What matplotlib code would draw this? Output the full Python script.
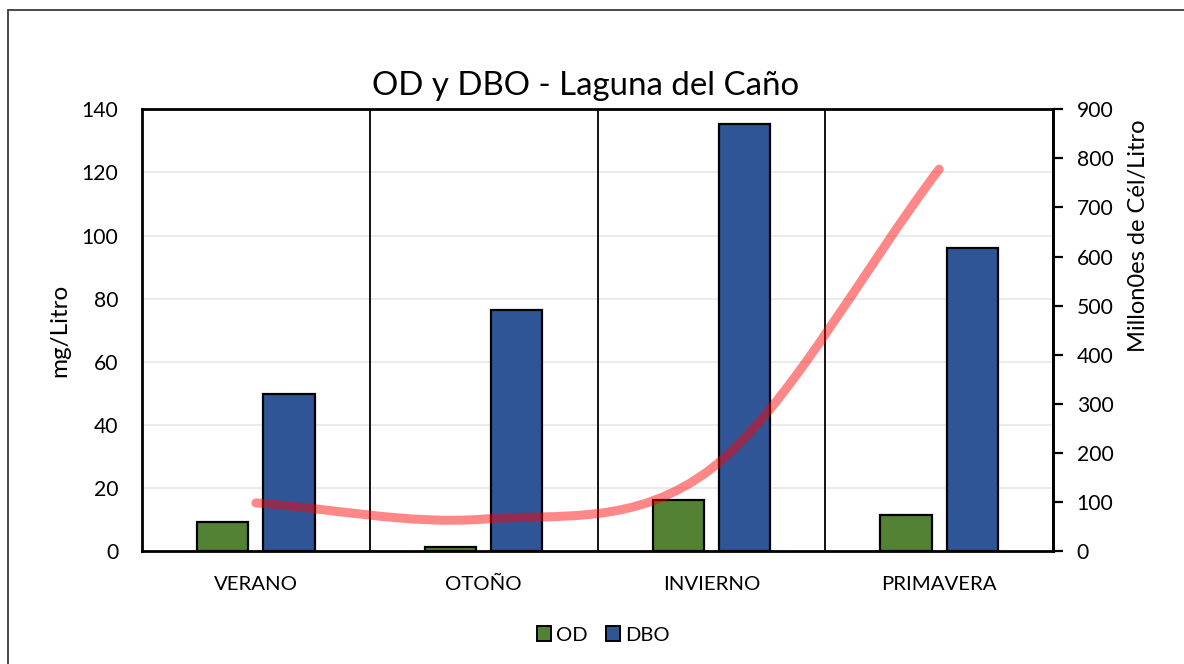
import numpy as np
import matplotlib
matplotlib.use("Agg")
import matplotlib.pyplot as plt
from matplotlib.patches import Rectangle, Patch
from matplotlib.path import Path
from matplotlib.patches import PathPatch

# ---- data ----
seasons = ["VERANO", "OTOÑO", "INVIERNO", "PRIMAVERA"]
od = [9.1, 1.4, 16.2, 11.4]          # mg/Litro
dbo = [49.9, 76.4, 135.2, 96.0]      # mg/Litro
cells = [98, 65, 168, 778]           # millones de cél/Litro
left_ticks = [0, 20, 40, 60, 80, 100, 120, 140]
right_ticks = [0, 100, 200, 300, 400, 500, 600, 700, 800, 900]

plt.rcParams["font.family"] = ["Lato", "DejaVu Sans"]

W, H = 1184, 664
fig = plt.figure(figsize=(W / 100, H / 100), dpi=100)

# outer chart frame
fig.patches.append(Rectangle((8 / W, -0.2), 1.3, 1 - 10 / H + 0.2,
                             transform=fig.transFigure, fill=False,
                             edgecolor="#3a3a3a", linewidth=1.3, zorder=0))

ax = fig.add_axes([142 / W, 1 - 551 / H, (1053 - 142) / W, (551 - 109.3) / H])
x = np.arange(len(seasons))
bw = 0.225
off = 0.145
ax.bar(x - off, od, bw, color="#548235", edgecolor="black", linewidth=1.6, zorder=3, label="OD")
ax.bar(x + off, dbo, bw, color="#2F5597", edgecolor="black", linewidth=1.6, zorder=3, label="DBO")

ax.set_xlim(-0.5, len(seasons) - 0.5)
ax.set_ylim(0, 140)
ax.set_yticks(left_ticks)
ax.set_xticks(x)
ax.set_xticklabels(seasons, fontsize=14.7)
ax.tick_params(axis="x", length=0, pad=18)
ax.tick_params(axis="y", length=0, pad=17, labelsize=15.2)
for v in left_ticks[1:]:
    ax.axhline(v, color="#ebebeb", linewidth=1.4, zorder=1)
for b in x[:-1] + 0.5:
    ax.axvline(b, color="black", linewidth=1.3, zorder=2)
for s in ax.spines.values():
    s.set_linewidth(2.0)
    s.set_color("black")

# secondary axis with smoothed line
ax2 = ax.twinx()
ax2.set_ylim(0, 900)
ax2.set_yticks(right_ticks)
ax2.tick_params(axis="y", direction="out", length=7, width=1.6, pad=10, labelsize=15.2)
for k in ("left", "top", "bottom"):
    ax2.spines[k].set_visible(False)
ax2.spines["right"].set_linewidth(2.0)

# smoothed curve through the points (Bezier segments, reflected end points)
pts = np.column_stack([x.astype(float), np.array(cells, float)])
ext = np.vstack([2 * pts[0] - pts[1], pts, 2 * pts[-1] - pts[-2]])
verts = [tuple(pts[0])]
codes = [Path.MOVETO]
for i in range(len(pts) - 1):
    p0, p1, p2, p3 = ext[i], ext[i + 1], ext[i + 2], ext[i + 3]
    c1 = p1 + (p2 - p0) / 6
    c2 = p2 - (p3 - p1) / 6
    verts += [tuple(c1), tuple(c2), tuple(p2)]
    codes += [Path.CURVE4] * 3
ax2.add_patch(PathPatch(Path(verts, codes), fill=False, edgecolor=(1, 0, 0, 0.47),
                        linewidth=6.5, capstyle="round", joinstyle="round", zorder=4))

# axis titles
fig.text(60 / W, 1 - 330 / H, "mg/Litro", rotation=90,
         ha="center", va="center", fontsize=17.5)
fig.text(1139 / W, 1 - 236 / H, "Millon0es de Cél/Litro", rotation=90,
         ha="center", va="center", fontsize=17)

fig.text(586 / W, 1 - 86 / H, "OD y DBO - Laguna del Caño", ha="center", va="center",
         fontsize=23.8)

handles = [Patch(facecolor="#548235", edgecolor="black", linewidth=1.4, label="OD"),
           Patch(facecolor="#2F5597", edgecolor="black", linewidth=1.4, label="DBO")]
fig.legend(handles=handles, loc="center", bbox_to_anchor=(603 / W, 1 - 635 / H), ncol=2,
           frameon=False, fontsize=14.5, handlelength=0.7, handleheight=0.7,
           handletextpad=0.25, columnspacing=0.9)

fig.savefig("out.png", dpi=100, facecolor="white")
